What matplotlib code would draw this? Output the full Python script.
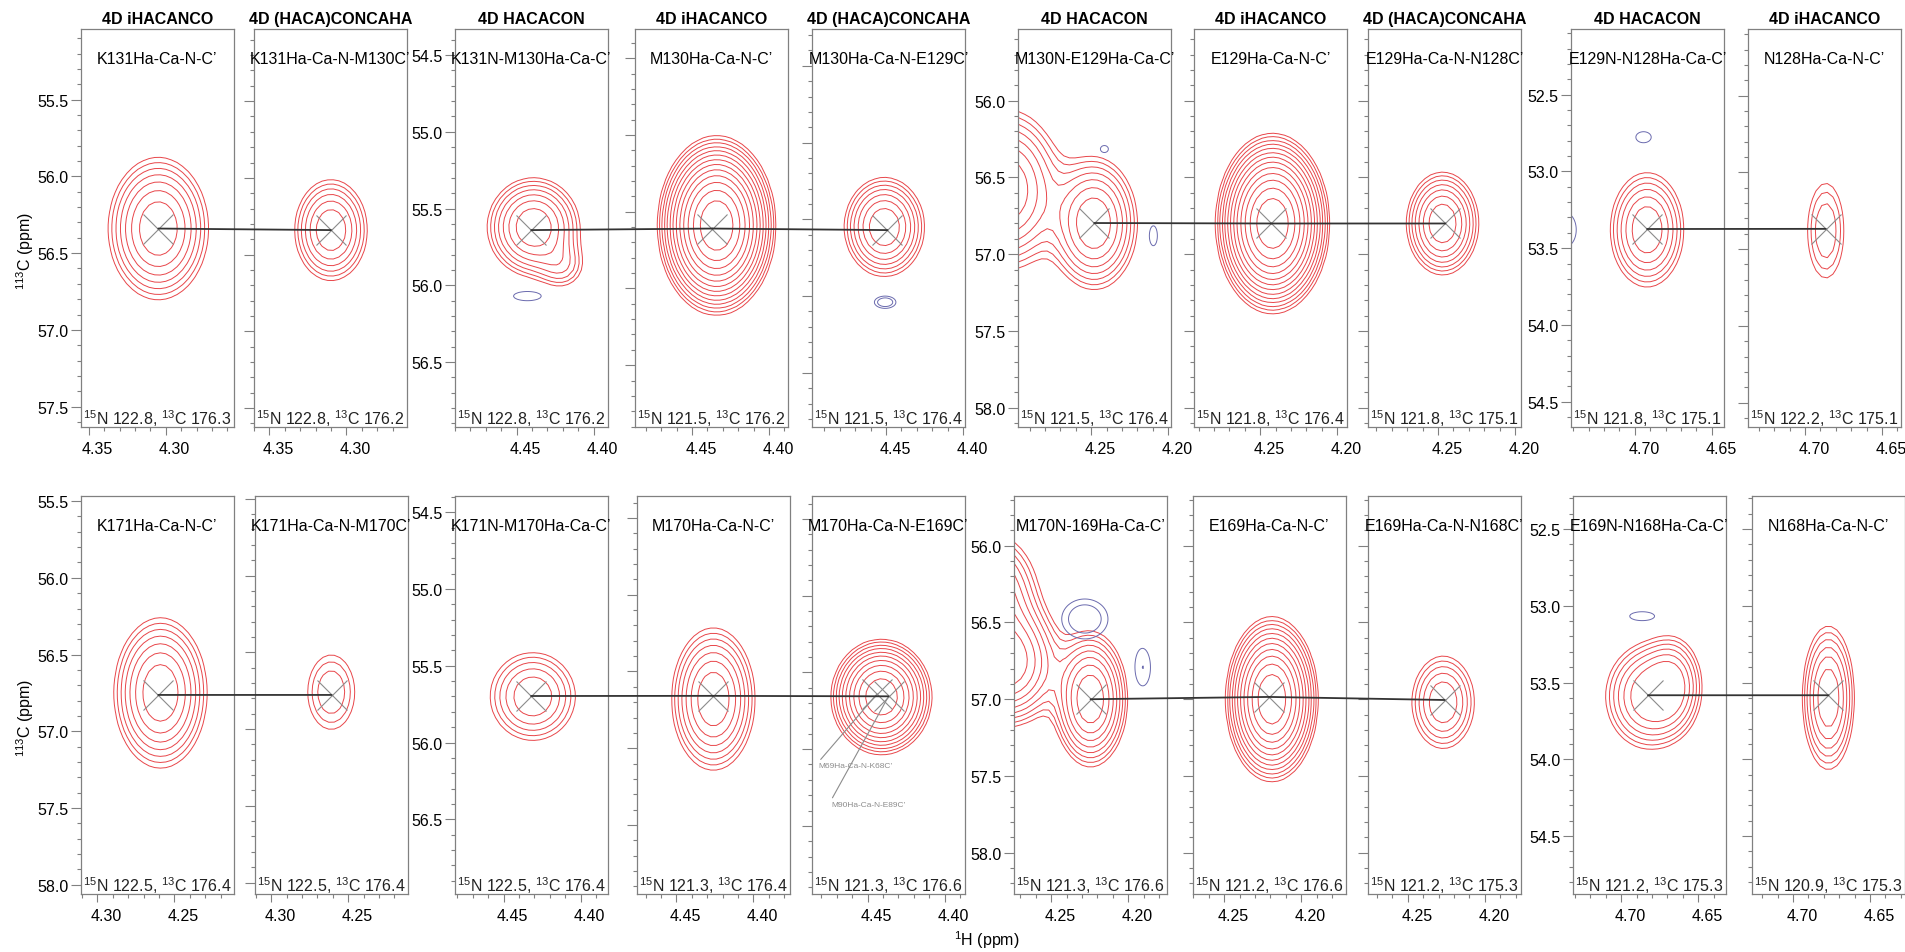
import numpy as np
import matplotlib
matplotlib.use('Agg')
import matplotlib.pyplot as plt
from matplotlib.patches import ConnectionPatch
from matplotlib.ticker import MultipleLocator, FormatStrFormatter
from matplotlib.transforms import ScaledTranslation

plt.rcParams['font.family'] = ['Liberation Sans', 'DejaVu Sans']
plt.rcParams['mathtext.fontset'] = 'custom'
plt.rcParams['mathtext.rm'] = 'Liberation Sans'
plt.rcParams['mathtext.default'] = 'regular'

titles = ['4D iHACANCO', '4D (HACA)CONCAHA', '4D HACACON',
          '4D iHACANCO', '4D (HACA)CONCAHA', '4D HACACON',
          '4D iHACANCO', '4D (HACA)CONCAHA', '4D HACACON', '4D iHACANCO']

names_top = ["K131Ha-Ca-N-C’", "K131Ha-Ca-N-M130C’", "K131N-M130Ha-Ca-C’",
             "M130Ha-Ca-N-C’", "M130Ha-Ca-N-E129C’", "M130N-E129Ha-Ca-C’",
             "E129Ha-Ca-N-C’", "E129Ha-Ca-N-N128C’", "E129N-N128Ha-Ca-C’",
             "N128Ha-Ca-N-C’"]
names_bot = ["K171Ha-Ca-N-C’", "K171Ha-Ca-N-M170C’", "K171N-M170Ha-Ca-C’",
             "M170Ha-Ca-N-C’", "M170Ha-Ca-N-E169C’", "M170N-169Ha-Ca-C’",
             "E169Ha-Ca-N-C’", "E169Ha-Ca-N-N168C’", "E169N-N168Ha-Ca-C’",
             "N168Ha-Ca-N-C’"]

n15_top = [122.8, 122.8, 122.8, 121.5, 121.5, 121.5, 121.8, 121.8, 121.8, 122.2]
c13_top = [176.3, 176.2, 176.2, 176.2, 176.4, 176.4, 176.4, 175.1, 175.1, 175.1]
n15_bot = [122.5, 122.5, 122.5, 121.3, 121.3, 121.3, 121.2, 121.2, 121.2, 120.9]
c13_bot = [176.4, 176.4, 176.4, 176.4, 176.6, 176.6, 176.6, 175.3, 175.3, 175.3]

# 1H value at the left edge and 13C value at the top edge of each strip
xl_top = [4.355, 4.360, 4.490, 4.487, 4.498, 4.2975, 4.293, 4.2954, 4.7414, 4.737]
yt_top = [55.04, 55.03, 54.33, 54.31, 54.26, 55.533, 55.533, 55.533, 52.072, 52.066]
xl_bot = [4.3106, 4.3105, 4.4815, 4.4756, 4.4861, 4.2742, 4.2702, 4.2758, 4.7313, 4.7266]
yt_bot = [55.467, 55.482, 54.394, 54.357, 54.351, 55.676, 55.676, 55.676, 52.285, 52.285]

# assigned peak (cross) positions
cx_top = [4.3048, 4.310, 4.4405, 4.4368, 4.449, 4.248, 4.243, 4.2452, 4.692, 4.6865]
cy_top = [56.34, 56.34, 55.64, 55.61, 55.57, 56.797, 56.80, 56.80, 53.375, 53.368]
cx_bot = [4.2604, 4.2608, 4.4321, 4.4263, 4.4364, 4.2245, 4.2208, 4.226, 4.6826, 4.677]
cy_bot = [56.763, 56.778, 55.697, 55.659, 55.656, 57.0, 56.985, 57.005, 53.583, 53.583]

# positive peaks: (1H, 13C, outer half-width 1H, outer half-width 13C, contour count)
pos_top = [
    [(4.3048, 56.34, 0.0325, 0.463, 7)],
    [(4.310, 56.34, 0.0235, 0.328, 6)],
    [(4.439, 55.62, 0.030, 0.32, 7), (4.420, 55.88, 0.010, 0.10, 2)],
    [(4.434, 55.59, 0.0384, 0.584, 13)],
    [(4.451, 55.55, 0.026, 0.322, 7)],
    [(4.248, 56.80, 0.028, 0.43, 7), (4.305, 56.58, 0.036, 0.52, 7)],
    [(4.242, 56.80, 0.037, 0.587, 13)],
    [(4.247, 56.80, 0.0234, 0.334, 7)],
    [(4.692, 53.38, 0.0238, 0.372, 6)],
    [(4.6865, 53.38, 0.0117, 0.308, 3)],
]
pos_bot = [
    [(4.259, 56.75, 0.0302, 0.489, 7)],
    [(4.261, 56.76, 0.0152, 0.242, 3)],
    [(4.431, 55.70, 0.0276, 0.285, 5)],
    [(4.426, 55.68, 0.027, 0.463, 7)],
    [(4.441, 55.66, 0.0327, 0.375, 10)],
    [(4.2245, 57.0, 0.024, 0.44, 8), (4.279, 56.76, 0.036, 0.42, 8),
     (4.290, 56.30, 0.030, 0.38, 6)],
    [(4.219, 57.0, 0.030, 0.537, 11)],
    [(4.227, 57.02, 0.0202, 0.30, 5)],
    [(4.682, 53.59, 0.028, 0.34, 6), (4.666, 53.50, 0.015, 0.25, 4)],
    [(4.677, 53.60, 0.0168, 0.467, 6)],
]
# negative peaks, same layout
neg_top = [[], [], [(4.443, 56.07, 0.009, 0.03, 1)], [],
           [(4.4505, 56.04, 0.007, 0.04, 2)],
           [(4.2414, 56.315, 0.0026, 0.023, 1), (4.2096, 56.88, 0.0026, 0.065, 1)],
           [], [],
           [(4.6943, 52.777, 0.005, 0.036, 1), (4.745, 53.38, 0.007, 0.11, 1)],
           []]
neg_bot = [[], [], [], [], [],
           [(4.2282, 56.477, 0.015, 0.13, 2), (4.1906, 56.793, 0.005, 0.12, 1)],
           [], [],
           [(4.6864, 53.068, 0.0081, 0.029, 1)],
           []]

# overlapping peaks annotated in bottom strip 5
extra_names = ["M69Ha-Ca-N-K68C’", "M90Ha-Ca-N-E89C’"]
extra_x = [4.4439, 4.4364]
extra_y = [55.641, 55.656]
extra_tx = [4.482, 4.4738]
extra_ty = [56.108, 56.358]

# ---------------- layout ----------------
W, H = 1906, 953
lefts = [[81, 254, 455, 635, 812, 1018, 1194, 1368, 1571, 1748],
         [81, 255, 455, 637, 812, 1014, 1193, 1368, 1573, 1752]]
tops = [30, 497]
SW, SH = 153, 398
XSPAN = SW / 1540.0
YSPAN = SH / 153.5
F = 1.3
RED = '#e8464a'
BLUE = '#6a6aae'
GRAY = '#808080'
FS = 11.5
group_first = [0, 2, 5, 8]
links = [(0, 1), (2, 3), (3, 4), (5, 6), (6, 7), (8, 9)]


def field(X, Y, peaks):
    Z = np.zeros_like(X)
    for x0, y0, hx, hy, n in peaks:
        s = np.sqrt(2 * n * np.log(F))
        Z += F ** n * np.exp(-0.5 * (((X - x0) * s / hx) ** 2 + ((Y - y0) * s / hy) ** 2))
    return Z


fig = plt.figure(figsize=(W / 100, H / 100), dpi=100)
shift = ScaledTranslation(9 / 100, 0, fig.dpi_scale_trans)

rows = [
    (names_top, n15_top, c13_top, xl_top, yt_top, cx_top, cy_top, pos_top, neg_top),
    (names_bot, n15_bot, c13_bot, xl_bot, yt_bot, cx_bot, cy_bot, pos_bot, neg_bot),
]
all_axes = []
for r, (names, n15, c13, xls, yts, cxs, cys, pos, neg) in enumerate(rows):
    axes = []
    for i in range(10):
        l = lefts[r][i]
        ax = fig.add_axes([l / W, 1 - (tops[r] + SH) / H, SW / W, SH / H])
        xl, yt = xls[i], yts[i]
        ax.set_xlim(xl, xl - XSPAN)
        ax.set_ylim(yt + YSPAN, yt)

        gx = np.linspace(xl - XSPAN - 0.01, xl + 0.01, 34)
        gy = np.linspace(yt - 0.2, yt + YSPAN + 0.2, 72)
        X, Y = np.meshgrid(gx, gy)
        nmax = max(p[4] for p in pos[i])
        ax.contour(X, Y, field(X, Y, pos[i]), levels=F ** np.arange(nmax),
                   colors=RED, linewidths=0.7)
        if neg[i]:
            gx2 = np.linspace(xl - XSPAN - 0.01, xl + 0.01, 160)
            gy2 = np.linspace(yt, yt + YSPAN, 300)
            X2, Y2 = np.meshgrid(gx2, gy2)
            nneg = max(p[4] for p in neg[i])
            ax.contour(X2, Y2, field(X2, Y2, neg[i]), levels=F ** np.arange(nneg),
                       colors=BLUE, linewidths=0.7)

        ax.plot(cxs[i], cys[i], marker='x', ms=21, mew=0.8, color='#8c8c8c',
                linestyle='none')

        ax.xaxis.set_major_locator(MultipleLocator(0.05))
        ax.xaxis.set_minor_locator(MultipleLocator(0.01))
        ax.xaxis.set_major_formatter(FormatStrFormatter('%.2f'))
        ax.yaxis.set_major_locator(MultipleLocator(0.5))
        ax.yaxis.set_minor_locator(MultipleLocator(0.1))
        ax.yaxis.set_major_formatter(FormatStrFormatter('%.1f'))
        ax.tick_params(axis='y', which='major', direction='out', length=7, width=0.8,
                       color=GRAY, labelsize=FS, pad=2, right=False)
        ax.tick_params(axis='y', which='minor', direction='out', length=3, width=0.8,
                       color=GRAY, right=False)
        ax.tick_params(axis='x', which='major', direction='out', length=5.5, width=0.8,
                       color=GRAY, labelsize=FS, pad=4.5, top=False)
        ax.tick_params(axis='x', which='minor', direction='out', length=3, width=0.8,
                       color=GRAY, top=False)
        if i not in group_first:
            ax.tick_params(axis='y', labelleft=False)
        ax.get_xticks()
        for t in ax.xaxis.get_major_ticks():
            t.label1.set_transform(t.label1.get_transform() + shift)
        for sp in ax.spines.values():
            sp.set_color(GRAY)
            sp.set_linewidth(0.9)

        if r == 0:
            ax.text(0.5, 1.026, titles[i], transform=ax.transAxes, ha='center',
                    va='center', fontsize=FS, fontweight='bold')
        ax.text(0.5, 0.925, names[i], transform=ax.transAxes, ha='center',
                va='center', fontsize=FS)
        ax.text(0.5, 0.008, '$^{15}$N %.1f, $^{13}$C %.1f' % (n15[i], c13[i]),
                transform=ax.transAxes, ha='center', va='baseline', fontsize=FS,
                color='#222222')
        axes.append(ax)

    for a, b in links:
        con = ConnectionPatch(xyA=(cxs[a], cys[a]), coordsA=axes[a].transData,
                              xyB=(cxs[b], cys[b]), coordsB=axes[b].transData,
                              color='#333333', lw=1.3)
        fig.add_artist(con)

    fig.text(25 / W, 1 - (tops[r] + SH / 2 + 22) / H, '$^{113}$C (ppm)',
             rotation=90, ha='center', va='center', fontsize=FS)
    all_axes.append(axes)

# annotated overlapping peaks in the lower M170 strip
ax5 = all_axes[1][4]
ax5.plot(extra_x[0], extra_y[0], marker='x', ms=21, mew=0.8, color='#8c8c8c',
         linestyle='none')
for k in range(2):
    ax5.annotate(extra_names[k], xy=(extra_x[k], extra_y[k]),
                 xytext=(extra_tx[k], extra_ty[k]), fontsize=6, color='#8c8c8c',
                 ha='left', va='center',
                 arrowprops=dict(arrowstyle='-', color='#8c8c8c', lw=0.8,
                                 relpos=(0.0, 1.0), shrinkA=0, shrinkB=0))

fig.text(987 / W, 1 - 940 / H, '$^{1}$H (ppm)', ha='center', va='center', fontsize=FS)

fig.savefig('out.png', dpi=100)
